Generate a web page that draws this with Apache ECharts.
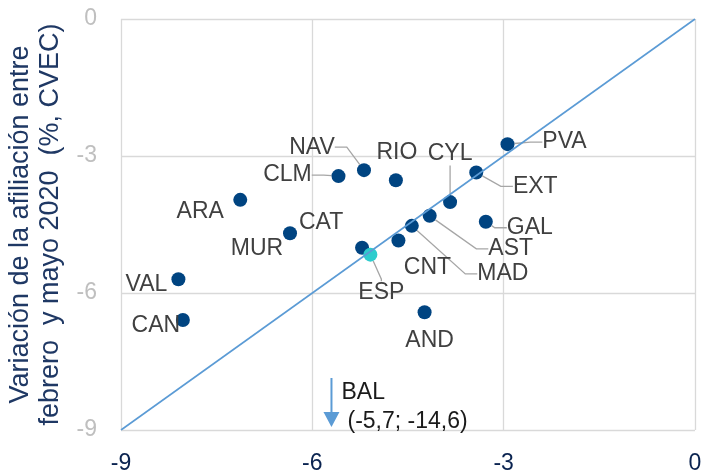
<!DOCTYPE html>
<html>
<head>
<meta charset="utf-8">
<script src="https://cdn.jsdelivr.net/npm/echarts@6/dist/echarts.min.js"></script>
<style>
  html, body { margin: 0; padding: 0; background: #fff; }
  #chart { width: 707px; height: 475px; }
</style>
</head>
<body>
<div id="chart"></div>
<script>
(function (window, document) {
    'use strict';

    // regiones (CCAA)
    var regions = ['PVA', 'NAV', 'CLM', 'RIO', 'EXT', 'CYL', 'GAL', 'AST', 'MAD', 'CNT', 'CAT', 'AND', 'ARA', 'MUR', 'VAL', 'CAN'];
    var xValues = [-2.94, -5.19, -5.59, -4.69, -3.43, -3.84, -3.28, -4.16, -4.44, -4.65, -5.22, -4.24, -7.13, -6.35, -8.10, -8.03];
    var yValues = [-2.74, -3.31, -3.44, -3.53, -3.36, -4.01, -4.44, -4.31, -4.53, -4.85, -5.01, -6.42, -3.96, -4.69, -5.70, -6.59];

    // media de España
    var espName = 'ESP';
    var espValue = [-5.09, -5.16];

    // Baleares queda fuera del gráfico
    var balName = 'BAL';
    var balValue = [-5.7, -14.6];

    var diagonal = [[-9, -9], [0, 0]];
    var axisMin = -9, axisMax = 0, axisStep = 3;
    var yTitle = 'Variación de la afiliación entre\nfebrero  y mayo 2020  (%, CVEC)';

    // desplazamiento de cada etiqueta respecto a su punto (px)
    var labelOffsets = {
        PVA: [57, -2], NAV: [-52, -23], CLM: [-51, -1], RIO: [1, -28],
        EXT: [59, 14], CYL: [0, -48], GAL: [44, 6], AST: [81, 33],
        MAD: [91, 48], CNT: [29, 27], CAT: [-41, -25], AND: [5, 28],
        ARA: [-40, 12], MUR: [-33, 15], VAL: [-32, 5], CAN: [-27, 6],
        ESP: [11, 38]
    };
    var withLeader = ['PVA', 'NAV', 'CLM', 'EXT', 'CYL', 'GAL', 'AST', 'MAD', 'ESP'];

    var FONT = '"Liberation Sans", Arial, sans-serif';
    var NAVY = '#004481';
    var LABEL_COLOR = '#404040';

    function fmt(v) {
        return String(v).replace('.', ',');
    }

    function makeItem(name, x, y) {
        var leader = withLeader.indexOf(name) >= 0;
        return {
            name: name,
            value: [x, y],
            labelLine: { show: leader, length2: name === 'ESP' ? 2 : 12 }
        };
    }

    var regionData = regions.map(function (name, i) {
        return makeItem(name, xValues[i], yValues[i]);
    });
    var espData = [makeItem(espName, espValue[0], espValue[1])];

    function offsetLayout(seriesData) {
        return function (params) {
            var off = labelOffsets[seriesData[params.dataIndex].name] || [0, 0];
            return { dx: off[0], dy: off[1] };
        };
    }

    var labelStyle = {
        show: true,
        position: 'inside',
        formatter: '{b}',
        color: LABEL_COLOR,
        fontSize: 23,
        fontFamily: FONT,
        padding: [0, 7]
    };
    var lineStyle = { color: '#a6a6a6', width: 1.3 };

    function renderBal(params, api) {
        var x = api.value(0), y = api.value(1);
        var p = api.coord([x, axisMin]);
        var px = p[0], py = p[1];
        var color = '#5b9bd5';
        return {
            type: 'group',
            children: [{
                type: 'line',
                shape: { x1: px, y1: py - 52, x2: px, y2: py - 17 },
                style: { stroke: color, lineWidth: 2 }
            }, {
                type: 'polygon',
                shape: { points: [[px - 8, py - 18], [px + 8, py - 18], [px, py - 3]] },
                style: { fill: color }
            }, {
                type: 'text',
                style: {
                    text: balName, x: px + 10, y: py - 37,
                    verticalAlign: 'middle', fill: '#1a1a1a',
                    fontSize: 23, fontFamily: FONT
                }
            }, {
                type: 'text',
                style: {
                    text: '(' + fmt(x) + '; ' + fmt(y) + ')', x: px + 16, y: py - 8,
                    verticalAlign: 'middle', fill: '#1a1a1a',
                    fontSize: 23, fontFamily: FONT
                }
            }]
        };
    }

    var chart = echarts.init(document.getElementById('chart'), null, { renderer: 'canvas' });

    var option = {
        animation: false,
        backgroundColor: '#fff',
        grid: {
            left: 121, right: 12, top: 19, bottom: 45,
            containLabel: false,
            outerBoundsMode: 'none'
        },
        xAxis: {
            type: 'value',
            min: axisMin, max: axisMax, interval: axisStep,
            axisLine: { show: false },
            axisTick: { show: false },
            splitLine: { show: true, showMinLine: true, showMaxLine: true, lineStyle: { color: '#d9d9d9', width: 1.3 } },
            axisLabel: { color: '#0a2350', fontSize: 23, fontFamily: FONT, margin: 22 }
        },
        yAxis: {
            type: 'value',
            min: axisMin, max: axisMax, interval: axisStep,
            axisLine: { show: false },
            axisTick: { show: false },
            splitLine: { show: true, showMinLine: true, showMaxLine: true, lineStyle: { color: '#d9d9d9', width: 1.3 } },
            axisLabel: { color: '#bfbfbf', fontSize: 23, fontFamily: FONT, margin: 24 },
            name: yTitle,
            nameLocation: 'middle',
            nameRotate: 90,
            nameGap: 53,
            nameTextStyle: { color: '#1f3864', fontSize: 27, fontFamily: FONT, lineHeight: 30, align: 'center' }
        },
        series: [{
            type: 'scatter',
            data: regionData,
            symbolSize: 14,
            itemStyle: { color: NAVY, opacity: 1 },
            label: labelStyle,
            labelLine: { show: true, length2: 12, lineStyle: lineStyle },
            labelLayout: offsetLayout(regionData),
            z: 3
        }, {
            type: 'scatter',
            data: espData,
            symbolSize: 14,
            itemStyle: { color: '#2dcccd', opacity: 1 },
            label: labelStyle,
            labelLine: { show: true, length2: 2, lineStyle: lineStyle },
            labelLayout: offsetLayout(espData),
            z: 3
        }, {
            type: 'line',
            data: diagonal,
            symbol: 'none',
            lineStyle: { color: '#5b9bd5', width: 1.6 },
            silent: true,
            z: 4
        }, {
            type: 'custom',
            data: [balValue],
            renderItem: renderBal,
            clip: false,
            silent: true,
            z: 5
        }]
    };

    chart.setOption(option);
})(window, document);
</script>
</body>
</html>
